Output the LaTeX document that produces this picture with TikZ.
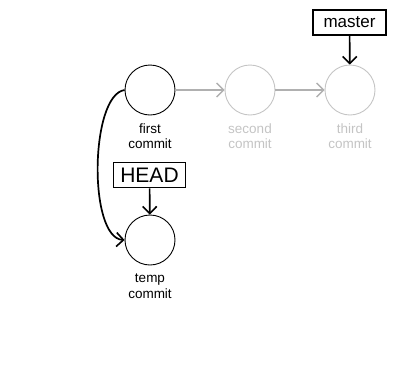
\documentclass[tikz,border=0pt]{standalone}
\usepackage{fontspec}
\setmainfont{Liberation Sans}
\usetikzlibrary{arrows.meta}
\definecolor{lightg}{HTML}{C4C4C4}
\definecolor{arrg}{HTML}{B0B0B0}
\begin{document}
\begin{tikzpicture}[x=1pt,y=-1pt,
  commit/.style={circle,draw,minimum size=50pt,inner sep=0pt,line width=0.9pt},
  faded/.style={draw=lightg},
  lbl/.style={align=center,font=\fontsize{13.5}{15.5}\selectfont,inner sep=0pt},
  ref/.style={draw,line width=1.2pt,inner sep=0pt},
  tip/.style={-{Straight Barb[length=7pt,width=14pt,line width=1.6pt]},line width=1.7pt},
  gtip/.style={arrg,line width=1.3pt,-{Straight Barb[length=7pt,width=14pt,line width=1.3pt]}}]
\useasboundingbox (0,0) rectangle (402,376);
\node[commit] (c1) at (150,90) {};
\node[commit,faded] (c2) at (250,90) {};
\node[commit,faded] (c3) at (350,90) {};
\node[commit] (t) at (150,240) {};
\node[lbl] (l1) at (150,136) {first\\commit};
\node[lbl,text=lightg] (l2) at (250,136) {second\\commit};
\node[lbl,text=lightg] (l3) at (350,136) {third\\commit};
\node[lbl] (lt) at (150,286) {temp\\commit};
\node[ref,font=\fontsize{17}{18}\selectfont,minimum width=73pt,minimum height=25pt] (m) at (349.5,22.5) {master};
\node[ref,line width=1.8pt,font=\fontsize{21}{22}\selectfont,minimum width=72pt,minimum height=25pt] (h) at (149.5,175) {HEAD};
\draw[gtip] (c1) -- (c2);
\draw[gtip] (c2) -- (c3);
\draw[tip] (m) -- (c3);
\draw[tip] (h) -- (t);
\draw[tip] (c1.west) .. controls (90,95) and (88,238) .. (t.west);
\end{tikzpicture}
\end{document}
